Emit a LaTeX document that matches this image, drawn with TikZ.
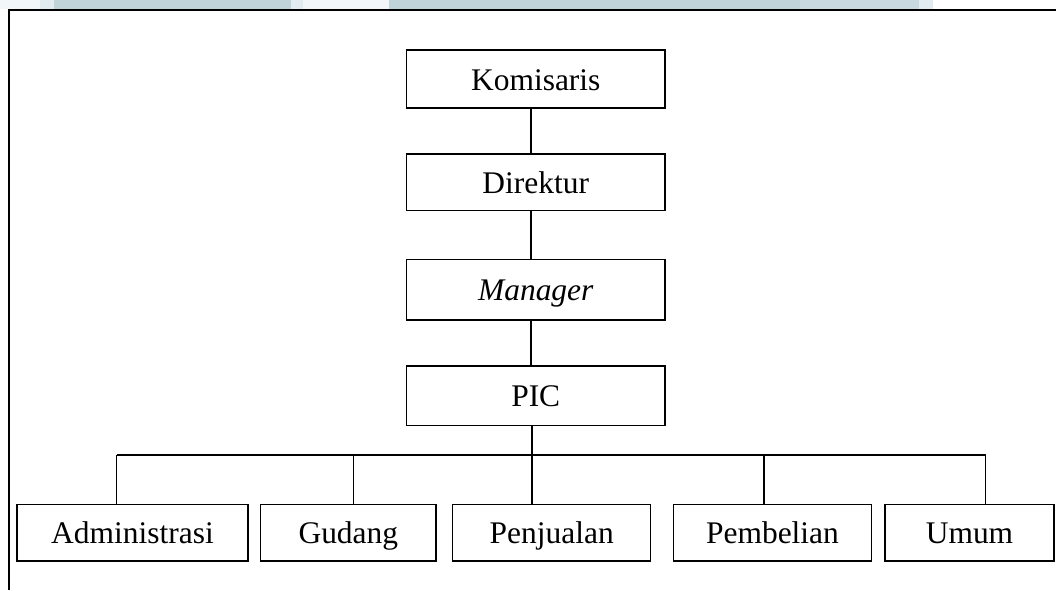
\documentclass[tikz,border=0pt]{standalone}
\usepackage{fontspec}
\setmainfont{Liberation Serif}
\definecolor{bandblue}{HTML}{C0D3D9}
\definecolor{bandblueL}{HTML}{C8D9DF}
\definecolor{bandpale}{HTML}{E2EBEF}
\definecolor{bandwhite}{HTML}{F2F6F8}
\tikzset{
  orgbox/.style={draw=black, line width=1.1pt, inner sep=0pt, align=center,
    font=\fontsize{23.6}{28}\selectfont, text height=17.7pt, text depth=1.2pt},
  link/.style={draw=black, line width=1.1pt},
  frameline/.style={draw=black, line width=1.5pt}
}
\begin{document}
\begin{tikzpicture}[x=0.75pt,y=-0.75pt]
  \useasboundingbox (0,0) rectangle (1056,590);
  % header band
  \fill[bandwhite] (0,0) rectangle (40,9);
  \fill[bandpale] (40,0) rectangle (54,9);
  \fill[bandblue] (54,0) rectangle (291,9);
  \fill[bandpale] (291,0) rectangle (303,9);
  \fill[bandwhite] (303,0) rectangle (389,9);
  \fill[bandblue] (389,0) rectangle (800,9);
  \fill[bandblueL] (800,0) rectangle (919,9);
  \fill[bandpale] (919,0) rectangle (933,9);
  % frame
  \coordinate (fTL) at (9,10);
  \coordinate (fTR) at (1056,10);
  \coordinate (fBL) at (9,590);
  \draw[frameline] (fBL) -- (fTL) -- (fTR);

  % upper chain
  \node[orgbox, minimum width=258.5*0.75pt, minimum height=58*0.75pt] (kom) at (535.75,79) {Komisaris};
  \node[orgbox, minimum width=258.5*0.75pt, minimum height=56.5*0.75pt] (dir) at (535.75,182.25) {Direktur};
  \node[orgbox, minimum width=258.5*0.75pt, minimum height=60.5*0.75pt] (man) at (535.75,289.75) {\itshape Manager};
  \node[orgbox, minimum width=258.5*0.75pt, minimum height=59.5*0.75pt] (pic) at (535.75,395.75) {PIC};

  % lower row
  \node[orgbox, minimum width=231*0.75pt, minimum height=56.5*0.75pt] (adm) at (132.5,532.75) {Administrasi};
  \node[orgbox, minimum width=175.3*0.75pt, minimum height=56.5*0.75pt] (gud) at (348.35,532.75) {Gudang};
  \node[orgbox, minimum width=198*0.75pt, minimum height=56.5*0.75pt] (pjl) at (551.7,532.75) {Penjualan};
  \node[orgbox, minimum width=198.4*0.75pt, minimum height=56.5*0.75pt] (pmb) at (772.5,532.75) {Pembelian};
  \node[orgbox, minimum width=169*0.75pt, minimum height=56.5*0.75pt] (umm) at (969.5,532.75) {Umum};

  % trunk and bus
  \coordinate (trunk) at (531,0);
  \coordinate (busL) at (116.5,455);
  \coordinate (busR) at (986,455);
  \coordinate (dropG) at (353.3,455);
  \coordinate (dropP) at (532,455);
  \coordinate (dropB) at (764,455);
  \coordinate (dropU) at (985.5,455);

  \draw[link] (kom.south -| trunk) -- (dir.north -| trunk);
  \draw[link] (dir.south -| trunk) -- (man.north -| trunk);
  \draw[link] (man.south -| trunk) -- (pic.north -| trunk);
  \draw[link] (pic.south -| dropP) -- (pjl.north -| dropP);
  \draw[link] (busL) -- (busR);
  \draw[link] (busL) -- (adm.north -| busL);
  \draw[link] (dropG) -- (gud.north -| dropG);
  \draw[link] (dropB) -- (pmb.north -| dropB);
  \draw[link] (dropU) -- (umm.north -| dropU);
\end{tikzpicture}
\end{document}
